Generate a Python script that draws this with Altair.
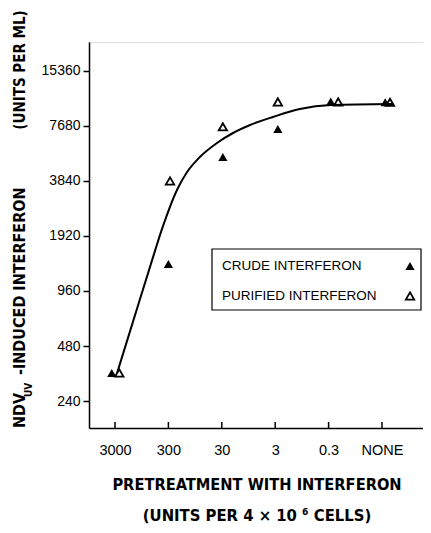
import altair as alt
import pandas as pd

# categories on the x axis (ordinal positions 0..5)
x_labels = ["3000", "300", "30", "3", "0.3", "NONE"]
y_ticks = [240, 480, 960, 1920, 3840, 7680, 15360]

# crude interferon (filled triangles)
crude_x = [-0.06, 1.0, 2.02, 3.05, 4.04, 5.06]
crude_y = [342, 1350, 5200, 7390, 10450, 10350]
# purified interferon (open triangles)
pur_x = [0.08, 1.03, 2.02, 3.05, 4.18, 5.15]
pur_y = [342, 3840, 7600, 10400, 10400, 10350]
# fitted curve
curve_x = [0.04, 0.34, 0.66, 0.90, 1.16, 1.35, 1.59, 1.91, 2.21, 2.53, 2.96, 3.46, 4.04, 5.21]
curve_y = [342, 657, 1314, 2180, 3428, 4302, 5197, 6199, 7030, 7778, 8604, 9510, 10000, 10130]

legend_labels = ["CRUDE INTERFERON", "PURIFIED INTERFERON"]

W, H = 334, 386
xscale = alt.Scale(domain=[-0.487, 5.768], nice=False, zero=False)
yscale = alt.Scale(type="log", base=2, domain=[170.8, 22130], nice=False)

FONT = "Liberation Sans"
TFONT = "DejaVu Sans Condensed, Roboto"

crude = pd.DataFrame({"x": crude_x, "y": crude_y})
pur = pd.DataFrame({"x": pur_x, "y": pur_y})
curve = pd.DataFrame({"x": curve_x, "y": curve_y})
ticks = pd.DataFrame({"x": list(range(len(x_labels)))})

label_expr = "[" + ",".join("'%s'" % s for s in x_labels) + "][datum.value]"

line = alt.Chart(curve).mark_line(interpolate="monotone", color="black", strokeWidth=2).encode(
    x=alt.X("x:Q", scale=xscale,
            axis=alt.Axis(values=list(range(len(x_labels))), labelExpr=label_expr, title=None,
                          grid=False, tickSize=0, labelPadding=15, domainColor="black",
                          domainWidth=1.5, labelFont=FONT, labelFontSize=14.5, labelColor="black")),
    y=alt.Y("y:Q", scale=yscale,
            axis=alt.Axis(values=y_ticks, format="d", title=None, grid=False, tickSize=6,
                          tickColor="black", tickWidth=1.5, domainColor="black", domainWidth=1.5,
                          labelPadding=3, labelFont=FONT, labelFontSize=14, labelColor="black")),
)

xt = alt.Chart(ticks).mark_rule(color="black", strokeWidth=1.5).encode(
    x=alt.X("x:Q", scale=xscale), y=alt.value(H - 6), y2=alt.value(H))

pc = alt.Chart(crude).mark_point(shape="triangle-up", filled=True, color="black", size=85, opacity=1).encode(
    x=alt.X("x:Q", scale=xscale), y=alt.Y("y:Q", scale=yscale))
pp = alt.Chart(pur).mark_point(shape="triangle-up", filled=False, color="black", size=70,
                               strokeWidth=1.8, opacity=1).encode(
    x=alt.X("x:Q", scale=xscale), y=alt.Y("y:Q", scale=yscale))

box = alt.Chart(pd.DataFrame({"a": [0]})).mark_rect(fill="white", stroke="black", strokeWidth=1.2).encode(
    x=alt.value(123), x2=alt.value(332), y=alt.value(207), y2=alt.value(268))

def txt(s, x, y, size, font=FONT, weight="normal", angle=0, align="left"):
    kw = dict(font=font, fontSize=size, fontWeight=weight, color="black", align=align,
              baseline="middle", text=s)
    if angle:
        kw["angle"] = angle
    return alt.Chart(pd.DataFrame({"a": [0]})).mark_text(**kw).encode(x=alt.value(x), y=alt.value(y))

leg1 = txt(legend_labels[0], 133, 224, 13.5)
leg2 = txt(legend_labels[1], 133, 254, 13.5)
lt1 = alt.Chart(pd.DataFrame({"a": [0]})).mark_point(shape="triangle-up", filled=True, color="black",
                                                     size=85, opacity=1).encode(x=alt.value(321), y=alt.value(224))
lt2 = alt.Chart(pd.DataFrame({"a": [0]})).mark_point(shape="triangle-up", filled=False, color="black",
                                                     size=70, strokeWidth=1.8, opacity=1).encode(x=alt.value(321), y=alt.value(254))

yt1 = txt("NDV", -69, 386, 16, TFONT, "bold", 270)
yt2 = txt("UV", -60, 355, 10, TFONT, "bold", 270)
yt3 = txt("-INDUCED INTERFERON", -69, 333, 16, TFONT, "bold", 270)
yt4 = txt("(UNITS PER ML)", -69, 28, 15, TFONT, "bold", 270, align="center")

xt1 = txt("PRETREATMENT WITH INTERFERON", 168, 443, 16.3, TFONT, "bold", align="center")
xt2 = txt("(UNITS PER 4 × 10 ⁶ CELLS)", 168, 474, 16.5, TFONT, "bold", align="center")

chart = alt.layer(box, line, xt, pc, pp, leg1, leg2, lt1, lt2, yt1, yt2, yt3, yt4, xt1, xt2).properties(
    width=W, height=H,
    autosize=alt.AutoSizeParams(type="none"),
    padding={"left": 81, "top": 34, "right": 0, "bottom": 97},
).configure_view(stroke=None).configure(background="white")

chart.save("out.html", embed_options={"renderer": "svg", "actions": False})
